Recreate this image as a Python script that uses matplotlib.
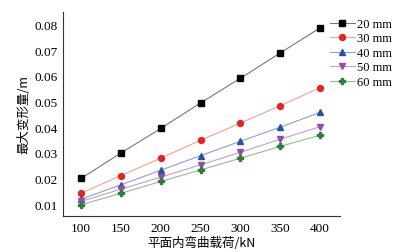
import matplotlib.pyplot as plt

plt.rcParams['font.family'] = ['Liberation Serif', 'Noto Sans CJK SC']

load = [100, 150, 200, 250, 300, 350, 400]
d20 = [0.0200, 0.0299, 0.0395, 0.0495, 0.0591, 0.0690, 0.0788]
d30 = [0.0142, 0.0211, 0.0279, 0.0349, 0.0416, 0.0484, 0.0554]
d40 = [0.0119, 0.0175, 0.0232, 0.0289, 0.0345, 0.0400, 0.0458]
d50 = [0.0110, 0.0158, 0.0205, 0.0253, 0.0302, 0.0353, 0.0402]
d60 = [0.0097, 0.0142, 0.0188, 0.0233, 0.0279, 0.0325, 0.0369]
labels = ['20 mm', '30 mm', '40 mm', '50 mm', '60 mm']

series = [d20, d30, d40, d50, d60]
markers = ['s', 'o', '^', 'v', 'P']
mcolors = ['#000000', '#e8231e', '#2553a8', '#9a4aa8', '#2e7d3a']
lcolors = ['#777777', '#f5a090', '#8c9ed6', '#c89ad2', '#8cbf8c']

fig = plt.figure(figsize=(4.02, 2.53), dpi=100)
ax = fig.add_axes([0.157, 0.142, 0.689, 0.807])

for ys, mk, mc, lc, lb in zip(series, markers, mcolors, lcolors, labels):
    ax.plot(load, ys, color=lc, lw=0.8, marker=mk, ms=4.3,
            markerfacecolor=mc, markeredgecolor=mc, label=lb)

ax.set_xlim(77.5, 425)
ax.set_ylim(0.0053, 0.085)
ax.set_xticks(load)
ax.set_yticks([0.01, 0.02, 0.03, 0.04, 0.05, 0.06, 0.07, 0.08])
ax.tick_params(length=0, labelsize=9.5, pad=4)
for s in ['top', 'right']:
    ax.spines[s].set_visible(False)
for s in ['left', 'bottom']:
    ax.spines[s].set_linewidth(0.8)
    ax.spines[s].set_color('#333333')

ax.set_xlabel('平面内弯曲载荷/kN', fontsize=9, labelpad=2,
              family=['Noto Sans CJK SC', 'Liberation Serif'])
ax.set_ylabel('最大变形量/m', fontsize=9, labelpad=3,
              family=['Noto Sans CJK SC', 'Liberation Serif'])

ax.legend(loc='upper left', bbox_to_anchor=(0.945, 0.995), frameon=False,
          fontsize=9, handlelength=2.0, handletextpad=0.2,
          labelspacing=0.2, borderaxespad=0)

fig.savefig('out.png', dpi=100)
